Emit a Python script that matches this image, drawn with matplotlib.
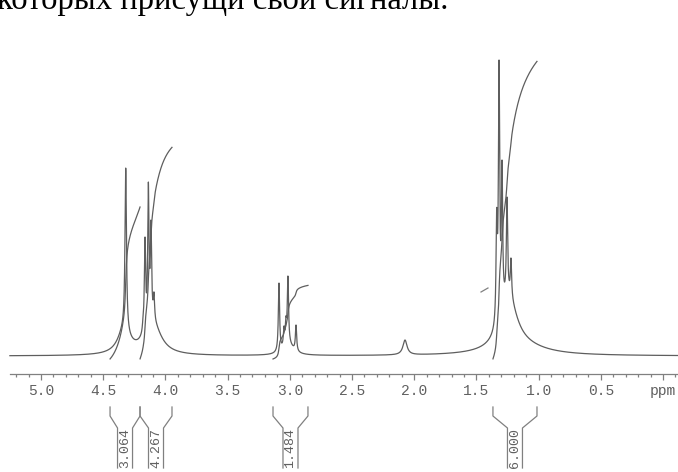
import numpy as np
import matplotlib
matplotlib.use('Agg')
import matplotlib.pyplot as plt

# sharp lines: ppm, height above baseline (px), half width (ppm)
line_ppm = [4.319, 4.180, 4.164, 4.137, 4.116, 4.092,
            3.087, 3.047, 3.031, 3.015, 2.950,
            2.074,
            1.337, 1.318, 1.294, 1.254, 1.222]
line_height = [188, 39, 119, 174, 136, 64,
               73, 30, 40, 80, 31,
               16,
               148, 296, 196, 159, 98]
line_width = [0.007, 0.006, 0.006, 0.006, 0.006, 0.006,
              0.006, 0.006, 0.006, 0.006, 0.006,
              0.02,
              0.006, 0.006, 0.006, 0.006, 0.006]

# broad skirts under the multiplets
skirt_ppm = [4.335, 4.100, 3.010, 1.240, 1.150]
skirt_height = [22, 30, 10, 50, 8]
skirt_width = [0.06, 0.08, 0.05, 0.08, 0.25]

# integral regions and values
int_from = [4.445, 4.204, 3.135, 1.367]
int_to = [4.204, 3.947, 2.854, 1.013]
int_value = ['3.064', '4.267', '1.484', '6.000']

# stray pen mark left of the 1.3 ppm group
mark_ppm = [1.463, 1.407]
mark_height = [64, 68]

tick_ppm = [5.0, 4.5, 4.0, 3.5, 3.0, 2.5, 2.0, 1.5, 1.0, 0.5, 0.0]
tick_text = ['5.0', '4.5', '4.0', '3.5', '3.0', '2.5', '2.0', '1.5', '1.0', '0.5', 'ppm']

caption = 'которых присущи свои сигналы.'

W, H = 678, 472
PX = 124.4          # pixels per ppm on the scan
X0 = 41             # pixel column of 5.0 ppm
ppm_left = 5.0 + X0 / PX
ppm_right = 5.0 - (W - X0) / PX
INT_SCALE = 49.6    # px per integral unit


def lorentz(x, c, h, w):
    return h * w**2 / ((x - c)**2 + w**2)


x = np.arange(5.25, ppm_right, -0.0004)

skirt = np.zeros_like(x)
for c, h, w in zip(skirt_ppm, skirt_height, skirt_width):
    skirt += lorentz(x, c, h, w)

# solve sharp line amplitudes so the summed trace hits the observed tops
c = np.array(line_ppm)
wv = np.array(line_width)
M = wv[None, :]**2 / ((c[:, None] - c[None, :])**2 + wv[None, :]**2)
sk_at = np.zeros(len(c))
for sc, sh, sw in zip(skirt_ppm, skirt_height, skirt_width):
    sk_at += lorentz(c, sc, sh, sw)
amp = np.linalg.solve(M, np.array(line_height) - sk_at)

y = skirt.copy()
for cc, a, w in zip(c, amp, wv):
    y += lorentz(x, cc, a, w)

fig = plt.figure(figsize=(W / 100, H / 100), dpi=100)
ax = fig.add_axes([0, 98 / H, 1, 374 / H])
ax.set_xlim(ppm_left, ppm_right)
ax.set_ylim(-18, 356)

trace = '#5e5e5e'
ax.plot(x, y, color=trace, lw=0.9)

for a, b, v in zip(int_from, int_to, int_value):
    m = (x <= a) & (x >= b)
    cum = np.cumsum(y[m])
    ax.plot(x[m], -3 + cum / cum[-1] * float(v) * INT_SCALE, color=trace, lw=0.9)

ax.plot(mark_ppm, mark_height, color='#808080', lw=0.9)

for s in ['top', 'left', 'right']:
    ax.spines[s].set_visible(False)
ax.spines['bottom'].set_color('#808080')
ax.spines['bottom'].set_linewidth(0.9)
ax.spines['bottom'].set_bounds(5.25, ppm_right)
ax.set_yticks([])
ax.set_xticks(tick_ppm)
ax.set_xticklabels(tick_text, family='Liberation Mono', fontsize=10.5, color='#606060')
ax.set_xticks(np.arange(5.2, -0.11, -0.1).round(1), minor=True)
ax.tick_params(axis='x', which='major', direction='out', length=4, width=0.9,
               color='#808080', pad=3.5)
ax.tick_params(axis='x', which='minor', direction='out', length=1.8, width=0.9,
               color='#808080')

# integral brackets under the axis
ax2 = fig.add_axes([0, 0, 1, 98 / H])
ax2.set_xlim(ppm_left, ppm_right)
ax2.set_ylim(98, 0)
ax2.axis('off')
hw = 7.5 / PX
for a, b, v in zip(int_from, int_to, int_value):
    mid = (a + b) / 2
    for edge, inner in [(a, mid + hw), (b, mid - hw)]:
        ax2.plot([edge, edge, inner, inner], [33, 42, 54, 94], color='#808080', lw=0.9)
    ax2.text(mid, 74, v, rotation=90, ha='center', va='center',
             family='Liberation Mono', fontsize=9.5, color='#606060')

fig.text(-3 / W, 1 - 9 / H, caption, family='Liberation Serif', fontsize=23.5,
         va='baseline', ha='left', color='black')

fig.savefig('out.png', dpi=100)
